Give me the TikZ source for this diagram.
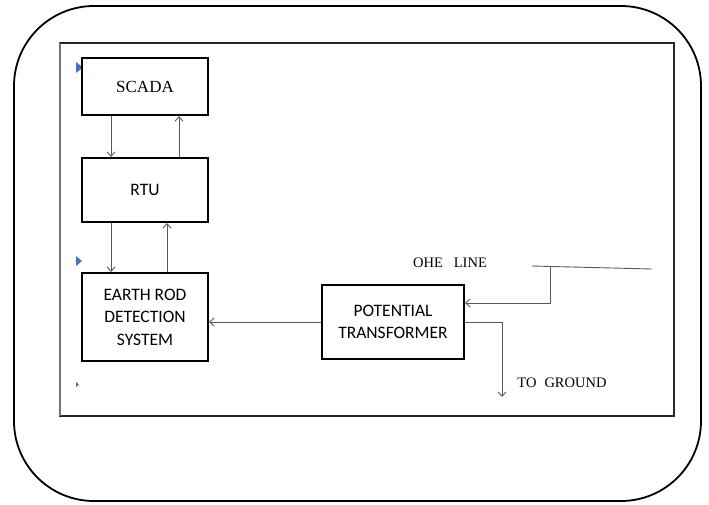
\documentclass[tikz,border=0pt]{standalone}
\usepackage{fontspec}
\setmainfont{Liberation Serif}
\newfontfamily\sansf{Carlito}
\usetikzlibrary{arrows.meta}
\definecolor{bulletblue}{HTML}{4472C4}
\begin{document}
\begin{tikzpicture}[x=1pt,y=-1pt,
  block/.style={draw=black, line width=2pt, fill=white, align=center,
    inner sep=0pt, font=\sansf\fontsize{17.5}{22.5}\selectfont},
  signal/.style={draw=black!65, line width=0.9pt,
    -{Straight Barb[length=4.5pt,width=8pt]}},
  wire/.style={draw=black!65, line width=0.9pt},
  caption/.style={inner sep=0pt, font=\fontsize{14.5}{17}\selectfont},
  bullet/.style={fill=bulletblue, draw=none}]
\useasboundingbox (0,0) rectangle (709,504);

% outer frame and page area
\draw[line width=1.8pt, rounded corners=80pt] (14,6) rectangle (701,501);
\draw[line width=1.6pt, black!85] (60,43) rectangle (674,416);
\draw[line width=1.4pt, black!55] (60,43) -- (60,416);

% list bullets on the page
\fill[bullet] (76,62) -- (83,67.5) -- (76,73) -- cycle;
\fill[bullet] (76,256) -- (82,261) -- (76,266) -- cycle;
\fill[bullet] (76,382) -- (79,384.5) -- (76,387) -- cycle;

% blocks
\node[block, minimum width=126pt, minimum height=57pt,
  font=\fontsize{17}{20}\selectfont] (scada) at (145,86.5) {SCADA};
\node[block, minimum width=126pt, minimum height=64pt] (rtu) at (145,190) {RTU};
\node[block, minimum width=126pt, minimum height=88pt] (earth) at (145,317)
  {EARTH ROD\\DETECTION\\SYSTEM};
\node[block, minimum width=142pt, minimum height=74pt] (pt) at (393,322)
  {POTENTIAL\\TRANSFORMER};

% links between the blocks
\draw[signal] ([xshift=-34pt]scada.south) -- ([xshift=-34pt]rtu.north);
\draw[signal] ([xshift=34pt]rtu.north) -- ([xshift=34pt]scada.south);
\draw[signal] ([xshift=-34pt]rtu.south) -- ([xshift=-34pt]earth.north);
\draw[signal] ([xshift=22pt]earth.north) -- ([xshift=22pt]rtu.south);
\draw[signal] (pt.west) -- (pt.west -| earth.east);

% overhead line and its tap
\coordinate (ohea) at (532,266);
\coordinate (oheb) at (652,269);
\coordinate (tap) at (550,266.5);
\draw[wire] (ohea) -- (oheb);
\draw[signal] (tap) |- ([yshift=19pt]pt.east);
\node[caption] (ohe) at (450,263) {OHE\hspace{11pt}LINE};

% earth return
\coordinate (gnd) at (502,397);
\draw[signal] (pt.east) -| (gnd);
\node[caption] (toground) at (562,383) {TO\hspace{8pt}GROUND};
\end{tikzpicture}
\end{document}
